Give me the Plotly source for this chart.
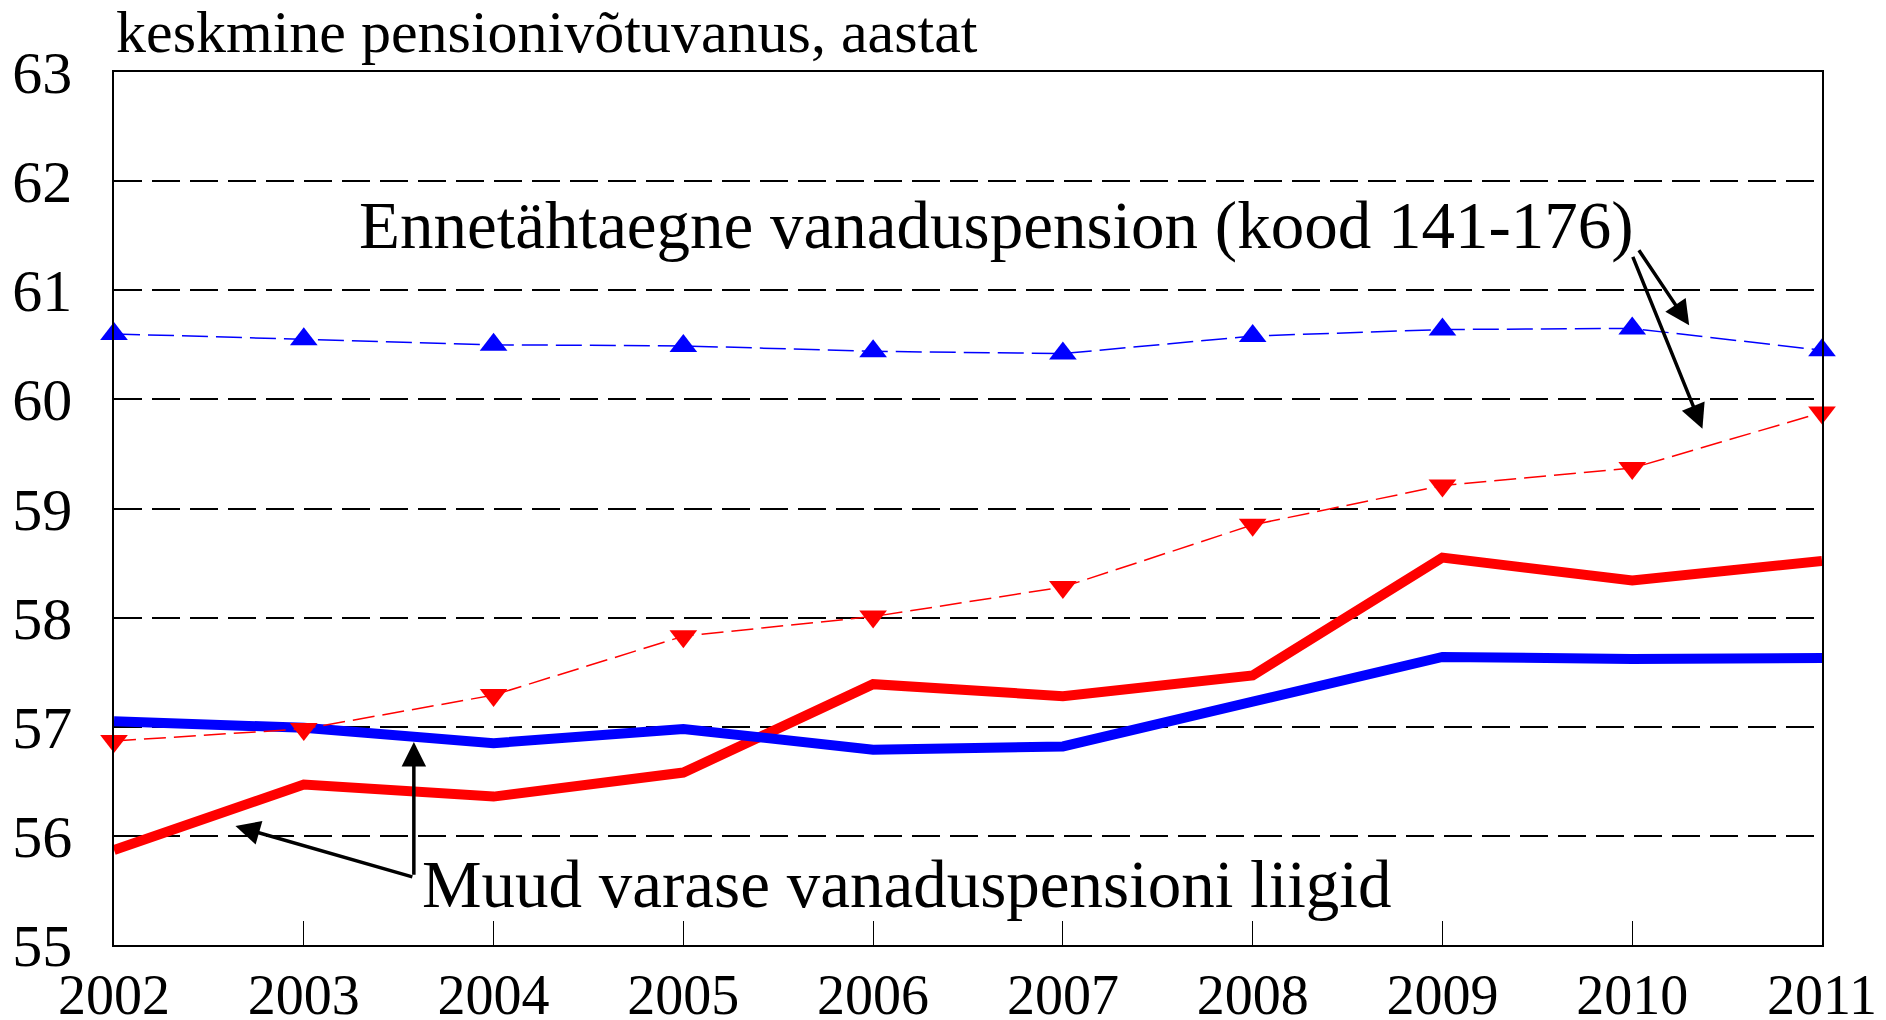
import plotly.graph_objects as go

years = [2002, 2003, 2004, 2005, 2006, 2007, 2008, 2009, 2010, 2011]
early_men = [60.60, 60.55, 60.50, 60.49, 60.44, 60.42, 60.58, 60.64, 60.65, 60.45]
early_women = [56.87, 56.98, 57.29, 57.83, 58.01, 58.28, 58.85, 59.21, 59.37, 59.88]
other_red = [55.87, 56.47, 56.36, 56.58, 57.39, 57.28, 57.47, 58.55, 58.34, 58.52]
other_blue = [57.05, 56.99, 56.85, 56.98, 56.79, 56.82, 57.23, 57.64, 57.62, 57.63]
y_ticks = [55, 56, 57, 58, 59, 60, 61, 62, 63]

FONT = "Liberation Serif, Times New Roman, serif"

fig = go.Figure()
fig.add_trace(go.Scatter(x=years, y=other_red, mode="lines",
                         line=dict(color="#FF0000", width=10), showlegend=False))
fig.add_trace(go.Scatter(x=years, y=other_blue, mode="lines",
                         line=dict(color="#0000FF", width=10), showlegend=False))
fig.add_trace(go.Scatter(x=years, y=early_women, mode="lines+markers",
                         line=dict(color="#FF0000", width=1.5, dash="22px,8px"),
                         marker=dict(symbol="triangle-down", size=24, color="#FF0000"),
                         cliponaxis=False, showlegend=False))
fig.add_trace(go.Scatter(x=years, y=early_men, mode="lines+markers",
                         line=dict(color="#0000FF", width=1.5, dash="26px,8px"),
                         marker=dict(symbol="triangle-up", size=24, color="#0000FF"),
                         cliponaxis=False, showlegend=False))

# annotations
ann = []
ann.append(dict(text="keskmine pensionivõtuvanus, aastat", xref="paper", yref="paper",
                x=0, y=1, xanchor="left", yanchor="bottom", yshift=5, showarrow=False,
                font=dict(family=FONT, size=60, color="black")))
ann.append(dict(text="Ennetähtaegne vanaduspension (kood 141-176)", x=2006.65, y=61.59,
                xanchor="center", yanchor="middle", showarrow=False,
                font=dict(family=FONT, size=67, color="black")))
ann.append(dict(text="Muud varase vanaduspensioni liigid", x=2003.61, y=55.56,
                xanchor="left", yanchor="middle", showarrow=False,
                font=dict(family=FONT, size=67, color="black")))
arrows = [
    (2010.03, 61.38, 2010.30, 60.68),
    (2010.00, 61.32, 2010.37, 59.73),
    (2003.58, 55.63, 2003.58, 56.86),
    (2003.58, 55.62, 2002.64, 56.09),
]
for tx, ty, hx, hy in arrows:
    ann.append(dict(x=hx, y=hy, ax=tx, ay=ty, xref="x", yref="y", axref="x", ayref="y",
                    text="", showarrow=True, arrowhead=2, arrowsize=1.4, arrowwidth=3.5,
                    arrowcolor="black"))

fig.update_layout(
    width=1886, height=1020,
    margin=dict(l=114, r=64, t=72, b=75),
    paper_bgcolor="white", plot_bgcolor="white",
    font=dict(family=FONT, color="black"),
    annotations=ann,
    xaxis=dict(range=[2002, 2011], tickvals=years, ticktext=[str(y) for y in years],
               ticks="inside", ticklen=24, tickwidth=1, tickcolor="black",
               showline=True, linecolor="black", linewidth=2, mirror=True,
               showgrid=False, zeroline=False, automargin=False,
               tickfont=dict(family=FONT, size=56, color="black"), ticklabelstandoff=0),
    yaxis=dict(range=[55, 63], tickvals=y_ticks, ticks="", showline=True,
               linecolor="black", linewidth=1.5, mirror=True,
               showgrid=True, gridcolor="black", gridwidth=1.5, griddash="28px,10px",
               zeroline=False, automargin=False,
               tickfont=dict(family=FONT, size=60, color="black"), ticklabelstandoff=28),
)

fig.write_html("out.html", config={"displayModeBar": False},
               post_script="document.body.style.margin='0';document.body.style.overflow='hidden';")
